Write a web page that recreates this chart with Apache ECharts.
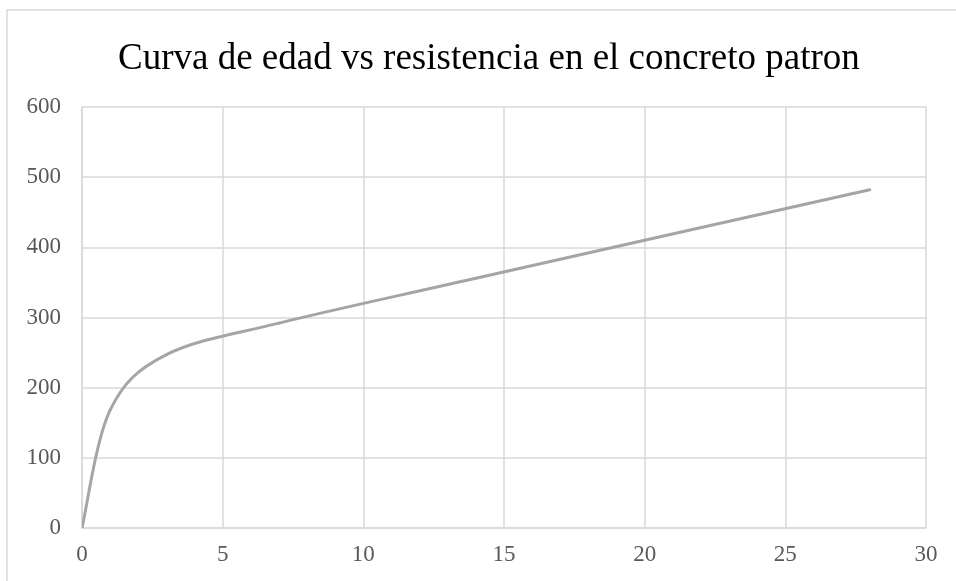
<!DOCTYPE html>
<html>
<head>
<meta charset="utf-8">
<style>
  html, body { margin: 0; padding: 0; background: #ffffff; }
  #chart { width: 956px; height: 581px; }
</style>
<script src="https://cdn.jsdelivr.net/npm/echarts@6/dist/echarts.min.js"></script>
</head>
<body>
<div id="chart"></div>
<script>
// Edad del concreto (días) y resistencia a compresión (kg/cm²)
const edadDias = [0, 1, 3, 7, 14, 28];
const resistencia = [0, 168, 247, 292, 356, 482];
const xTicks = [0, 5, 10, 15, 20, 25, 30];
const yTicks = [0, 100, 200, 300, 400, 500, 600];

const chart = echarts.init(document.getElementById('chart'), null, { renderer: 'canvas' });

const serif = '"Liberation Serif", "Times New Roman", serif';
const puntos = edadDias.map((d, i) => [d, resistencia[i]]);
const n = puntos.length;

// Each data item draws the cubic Bézier segment from its point to the next one,
// with Catmull-Rom control points taken from the neighbouring points (in pixels).
function renderSegment(params, api) {
  const i = params.dataIndex;
  if (i >= n - 1) return null;
  const px = k => api.coord(puntos[Math.max(0, Math.min(n - 1, k))]);
  const p0 = px(i - 1), p1 = px(i), p2 = px(i + 1), p3 = px(i + 2);
  const c1 = [p1[0] + (p2[0] - p0[0]) / 6, p1[1] + (p2[1] - p0[1]) / 6];
  const c2 = [p2[0] - (p3[0] - p1[0]) / 6, p2[1] - (p3[1] - p1[1]) / 6];
  return {
    type: 'bezierCurve',
    shape: {
      x1: p1[0], y1: p1[1], x2: p2[0], y2: p2[1],
      cpx1: c1[0], cpy1: c1[1], cpx2: c2[0], cpy2: c2[1]
    },
    style: { fill: null, stroke: '#a5a5a5', lineWidth: 3, lineCap: 'round' }
  };
}

chart.setOption({
  backgroundColor: '#ffffff',
  animation: false,
  graphic: [{
    type: 'rect',
    shape: { x: 7, y: 10, width: 1000, height: 700 },
    style: { fill: 'none', stroke: '#d9d9d9', lineWidth: 1.5 },
    silent: true
  }],
  title: {
    text: 'Curva de edad vs resistencia en el concreto patron',
    left: 113,
    top: 36,
    textStyle: { fontFamily: serif, fontSize: 37, fontWeight: 'normal', color: '#000000' }
  },
  grid: { left: 82, right: 30, top: 107, bottom: 53, containLabel: false },
  xAxis: {
    type: 'value',
    min: xTicks[0],
    max: xTicks[xTicks.length - 1],
    interval: xTicks[1] - xTicks[0],
    axisLine: { show: true, lineStyle: { color: '#d9d9d9', width: 1.5 } },
    axisTick: { show: false },
    splitLine: { show: true, lineStyle: { color: '#d9d9d9', width: 1.5 } },
    axisLabel: { margin: 15, fontFamily: serif, fontSize: 23, color: '#595959' }
  },
  yAxis: {
    type: 'value',
    min: yTicks[0],
    max: yTicks[yTicks.length - 1],
    interval: yTicks[1] - yTicks[0],
    axisLine: { show: true, lineStyle: { color: '#d9d9d9', width: 1.5 } },
    axisTick: { show: false },
    splitLine: { show: true, lineStyle: { color: '#d9d9d9', width: 1.5 } },
    axisLabel: { margin: 21, fontFamily: serif, fontSize: 23, color: '#595959' }
  },
  series: [{
    type: 'custom',
    data: puntos,
    encode: { x: 0, y: 1 },
    clip: true,
    renderItem: renderSegment
  }]
});
</script>
</body>
</html>
